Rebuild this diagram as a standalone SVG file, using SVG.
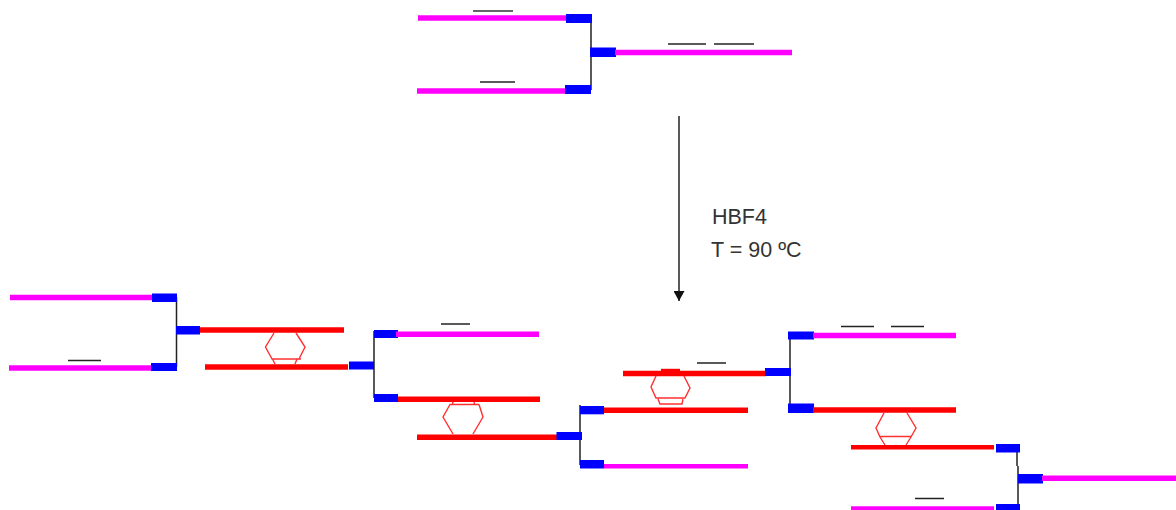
<svg xmlns="http://www.w3.org/2000/svg" width="1176" height="510" viewBox="0 0 1176 510">
<style>
.p{stroke:#f0f;stroke-width:5.400;fill:none}
.r{stroke:#f00;stroke-width:5.600;fill:none}
.r4{stroke:#f00;stroke-width:4.400;fill:none}
.m4{stroke:#f0f;stroke-width:4.400;fill:none}
.b{fill:#00f}
.o{stroke:#222;stroke-width:1.500;fill:none}
.g{stroke:#666;stroke-width:1.800;fill:none}
.k{stroke:#222;stroke-width:1.500;fill:none}
.h{stroke:#ff3030;stroke-width:1.400;fill:none}
text{font-family:"Liberation Sans",Arial,sans-serif;font-size:21.500px;fill:#333}
</style>
<defs>
<marker id="ah" markerUnits="userSpaceOnUse" markerWidth="11" markerHeight="11" refX="10" refY="5.500" orient="auto"><path d="M0 0L10 5.500L0 11Z" fill="#111"/></marker>
</defs>
<g id="connectors">
<line class="k" x1="591" y1="18" x2="591" y2="90"/>
<line class="k" x1="679" y1="116" x2="679" y2="301" marker-end="url(#ah)"/>
<line class="k" x1="176.500" y1="297" x2="176.500" y2="367"/>
<line class="k" x1="374" y1="331" x2="374" y2="398"/>
<line class="k" x1="580" y1="405" x2="580" y2="465"/>
<line class="k" x1="790" y1="335" x2="790" y2="405"/>
<line class="k" x1="1017" y1="448" x2="1017" y2="466"/>
<line class="k" x1="1018" y1="466" x2="1018" y2="506"/>
</g>
<g id="reagent">
<line class="p" x1="418" y1="18" x2="568" y2="18"/><rect class="b" x="566" y="14" width="26" height="9"/>
<line class="g" x1="473" y1="11" x2="513" y2="11"/>
<line class="p" x1="417" y1="91" x2="567" y2="91"/><rect class="b" x="565" y="85" width="26" height="9"/>
<line class="o" x1="480" y1="82" x2="515" y2="82"/>
<rect class="b" x="590" y="47.500" width="26" height="9.500"/>
<line class="p" x1="615" y1="52.500" x2="792" y2="52.500"/>
<line class="o" x1="668" y1="44" x2="706" y2="44"/>
<line class="o" x1="714" y1="44" x2="754" y2="44"/>
</g>
<g id="conditions">
<text x="712" y="224">HBF4</text>
<text x="711" y="257">T = 90 ºC</text>
</g>
<g id="unit-1">
<line class="p" x1="10" y1="297.500" x2="153" y2="297.500"/><rect class="b" x="152" y="293.500" width="25" height="8.500"/>
<line class="p" x1="9" y1="368" x2="152" y2="368"/><rect class="b" x="151" y="363" width="26" height="8"/>
<line class="o" x1="68" y1="360.500" x2="101" y2="360.500"/>
<rect class="b" x="176" y="326" width="24" height="8.500"/>
<line class="r" x1="200" y1="330" x2="344" y2="330"/>
<line class="r" x1="205" y1="367" x2="348" y2="367"/>
<path class="h" d="M274 333L265.500 347L272 359M296 333L305 347L299 359M271.500 359H301M272.500 359L275 364M297 359L295 364"/>
</g>
<g id="unit-2">
<rect class="b" x="349" y="361.500" width="25" height="8"/>
<rect class="b" x="374" y="330" width="24" height="8"/>
<line class="p" x1="396" y1="334.300" x2="539" y2="334.300"/>
<line class="o" x1="441" y1="324" x2="470" y2="324"/>
<rect class="b" x="374" y="394" width="24" height="8"/>
<line class="r" x1="398" y1="399.300" x2="540" y2="399.300"/>
<path class="h" d="M453 402L452.500 404M474 402L474.500 404M449.500 404.500H479M450 404.500L443 417L453 434M479 404.500L483 417L473 434"/>
<line class="r" x1="417" y1="437.300" x2="559" y2="437.300"/>
</g>
<g id="unit-3">
<rect class="b" x="556.500" y="432" width="25.500" height="8"/>
<rect class="b" x="580" y="406" width="24" height="8.300"/>
<line class="r" x1="604" y1="410.300" x2="748" y2="410.300"/>
<rect class="b" x="580" y="460" width="24" height="8.500"/>
<line class="m4" x1="604" y1="466.300" x2="748" y2="466.300"/>
<line class="r" x1="623" y1="373.500" x2="766" y2="373.500"/>
<line class="r4" x1="661" y1="371" x2="680" y2="371"/>
<path class="h" d="M656 376L651 387L656 398H685L690 388L684 376M658 399L660 404H682L683 399"/>
<line class="o" x1="697" y1="363" x2="726" y2="363"/>
</g>
<g id="unit-4">
<rect class="b" x="765" y="368" width="26" height="8"/>
<rect class="b" x="788" y="331.500" width="26" height="8"/>
<line class="p" x1="813" y1="335.500" x2="956" y2="335.500"/>
<line class="o" x1="841" y1="326.500" x2="874" y2="326.500"/>
<line class="o" x1="891" y1="326.500" x2="924" y2="326.500"/>
<rect class="b" x="788" y="403.500" width="26" height="9.500"/>
<line class="r" x1="813" y1="410" x2="956" y2="410"/>
<path class="h" d="M884 413L876 428L880 437L885 445M907 413L916 428L911 437L906 445M880 436.500H911"/>
<line class="r4" x1="851" y1="447.300" x2="994" y2="447.300"/>
</g>
<g id="unit-5">
<rect class="b" x="996" y="444" width="24" height="8.500"/>
<rect class="b" x="1018" y="474" width="25" height="9.500"/>
<line class="p" x1="1042" y1="478.200" x2="1176" y2="478.200"/>
<line class="o" x1="915" y1="498.500" x2="944" y2="498.500"/>
<line class="m4" x1="851" y1="508.500" x2="994" y2="508.500"/>
<rect class="b" x="996" y="504" width="24" height="6"/>
</g>
</svg>
